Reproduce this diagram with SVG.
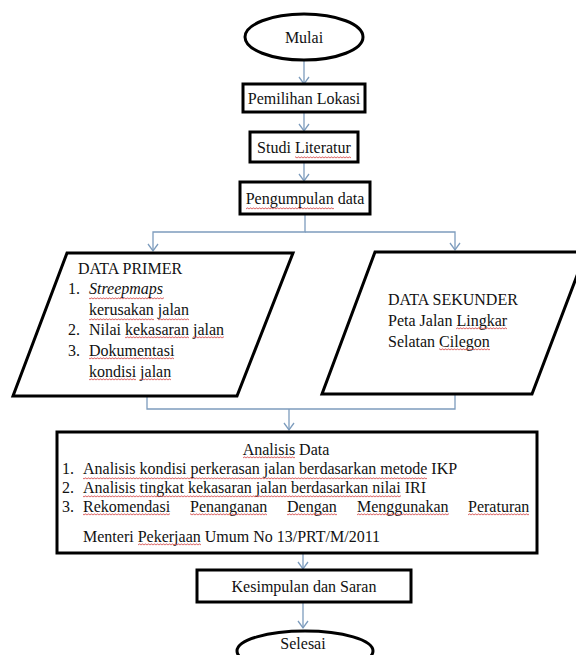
<svg xmlns="http://www.w3.org/2000/svg" width="576" height="655" viewBox="0 0 576 655">
<style>
text{font-family:"Liberation Serif","Times New Roman",serif;font-size:16px;fill:#111;}
.c{text-anchor:middle;}
.sh{fill:#fff;stroke:#000;stroke-width:3;}
.cn{fill:none;stroke:#7d9cbd;stroke-width:1.3;}
.w{fill:url(#wv);}
</style>
<defs>
<marker id="ah" markerUnits="userSpaceOnUse" markerWidth="14" markerHeight="14" refX="0" refY="0" viewBox="-9 -7 10 14" orient="auto">
<path d="M-7,-5 L0,0 L-7,5" fill="none" stroke="#7d9cbd" stroke-width="1.3"/>
</marker>
<pattern id="wv" patternUnits="userSpaceOnUse" width="3" height="3">
<path d="M0,2.3 L1.5,0.7 L3,2.3" fill="none" stroke="#d23c3c" stroke-width="0.9"/>
</pattern>
</defs>
<rect width="576" height="655" fill="#fff"/>
<g id="connectors">
<path class="cn" d="M304,61 V84" marker-end="url(#ah)"/>
<path class="cn" d="M304,112 V131" marker-end="url(#ah)"/>
<path class="cn" d="M304,162 V181" marker-end="url(#ah)"/>
<path class="cn" d="M305,214 V232 H153 V251" marker-end="url(#ah)"/>
<path class="cn" d="M305,232 H455 V250" marker-end="url(#ah)"/>
<path class="cn" d="M147,396 V409 H455 V395"/>
<path class="cn" d="M289,409 V430" marker-end="url(#ah)"/>
<path class="cn" d="M303,553 V569" marker-end="url(#ah)"/>
<path class="cn" d="M303,602 V628" marker-end="url(#ah)"/>
</g>
<g id="mulai">
<ellipse class="sh" cx="304" cy="37" rx="59" ry="23"/>
<text class="c" x="304" y="43">Mulai</text>
</g>
<g id="pemilihan">
<rect class="sh" x="243" y="84" width="122" height="28"/>
<text class="c" x="304" y="104">Pemilihan Lokasi</text>
</g>
<g id="studi">
<rect class="sh" x="250" y="132" width="108" height="30"/>
<text class="c" x="304" y="153">Studi Literatur</text>
<rect class="w" x="295" y="156" width="56" height="3"/>
</g>
<g id="pengumpulan">
<rect class="sh" x="240" y="182" width="130" height="32"/>
<text class="c" x="305" y="204">Pengumpulan data</text>
<rect class="w" x="246" y="207" width="88" height="3"/>
</g>
<g id="primer">
<polygon class="sh" points="67,253 293,253 237,396 13,396"/>
<text x="78" y="274">DATA PRIMER</text>
<text x="68" y="294">1.</text>
<text x="89" y="294" font-style="italic">Streepmaps</text>
<text x="89" y="315">kerusakan jalan</text>
<text x="68" y="335">2.</text>
<text x="89" y="335">Nilai kekasaran jalan</text>
<text x="68" y="356">3.</text>
<text x="89" y="356">Dokumentasi</text>
<text x="89" y="377">kondisi jalan</text>
<rect class="w" x="89" y="297" width="75" height="3"/>
<rect class="w" x="89" y="318" width="65" height="3"/>
<rect class="w" x="158" y="318" width="31" height="3"/>
<rect class="w" x="125" y="336" width="64" height="3"/>
<rect class="w" x="193" y="336" width="31" height="3"/>
<rect class="w" x="89" y="357" width="85" height="3"/>
<rect class="w" x="89" y="378" width="47" height="3"/>
<rect class="w" x="140" y="378" width="31" height="3"/>
</g>
<g id="sekunder">
<polygon class="sh" points="375,252 586,252 532,394 322,394"/>
<text x="388" y="305">DATA SEKUNDER</text>
<text x="388" y="326">Peta Jalan Lingkar</text>
<text x="388" y="347">Selatan Cilegon</text>
<rect class="w" x="456" y="327" width="51" height="3"/>
<rect class="w" x="439" y="348" width="51" height="3"/>
</g>
<g id="analisis">
<rect class="sh" x="57" y="432" width="480" height="121"/>
<text class="c" x="286" y="455">Analisis Data</text>
<text x="62" y="474">1.</text>
<text x="83" y="474">Analisis kondisi perkerasan jalan berdasarkan metode IKP</text>
<text x="62" y="493">2.</text>
<text x="83" y="493">Analisis tingkat kekasaran jalan berdasarkan nilai IRI</text>
<text x="62" y="512">3.</text>
<text x="83" y="512">Rekomendasi</text>
<text x="190" y="512">Penanganan</text>
<text x="287" y="512">Dengan</text>
<text x="357" y="512">Menggunakan</text>
<text x="468" y="512">Peraturan</text>
<text x="83" y="542">Menteri Pekerjaan Umum No 13/PRT/M/2011</text>
<rect class="w" x="243" y="456" width="52" height="3"/>
<rect class="w" x="83" y="477" width="344" height="3"/>
<rect class="w" x="83" y="495" width="318" height="3"/>
<rect class="w" x="83" y="513" width="87" height="3"/>
<rect class="w" x="190" y="513" width="77" height="3"/>
<rect class="w" x="287" y="513" width="50" height="3"/>
<rect class="w" x="357" y="513" width="92" height="3"/>
<rect class="w" x="468" y="513" width="61" height="3"/>
<rect class="w" x="138" y="543" width="63" height="3"/>
</g>
<g id="kesimpulan">
<rect class="sh" x="197" y="570" width="214" height="32"/>
<text class="c" x="304" y="592">Kesimpulan dan Saran</text>
</g>
<g id="selesai">
<ellipse class="sh" cx="305" cy="651" rx="68" ry="20"/>
<text class="c" x="303" y="649">Selesai</text>
</g>
</svg>
